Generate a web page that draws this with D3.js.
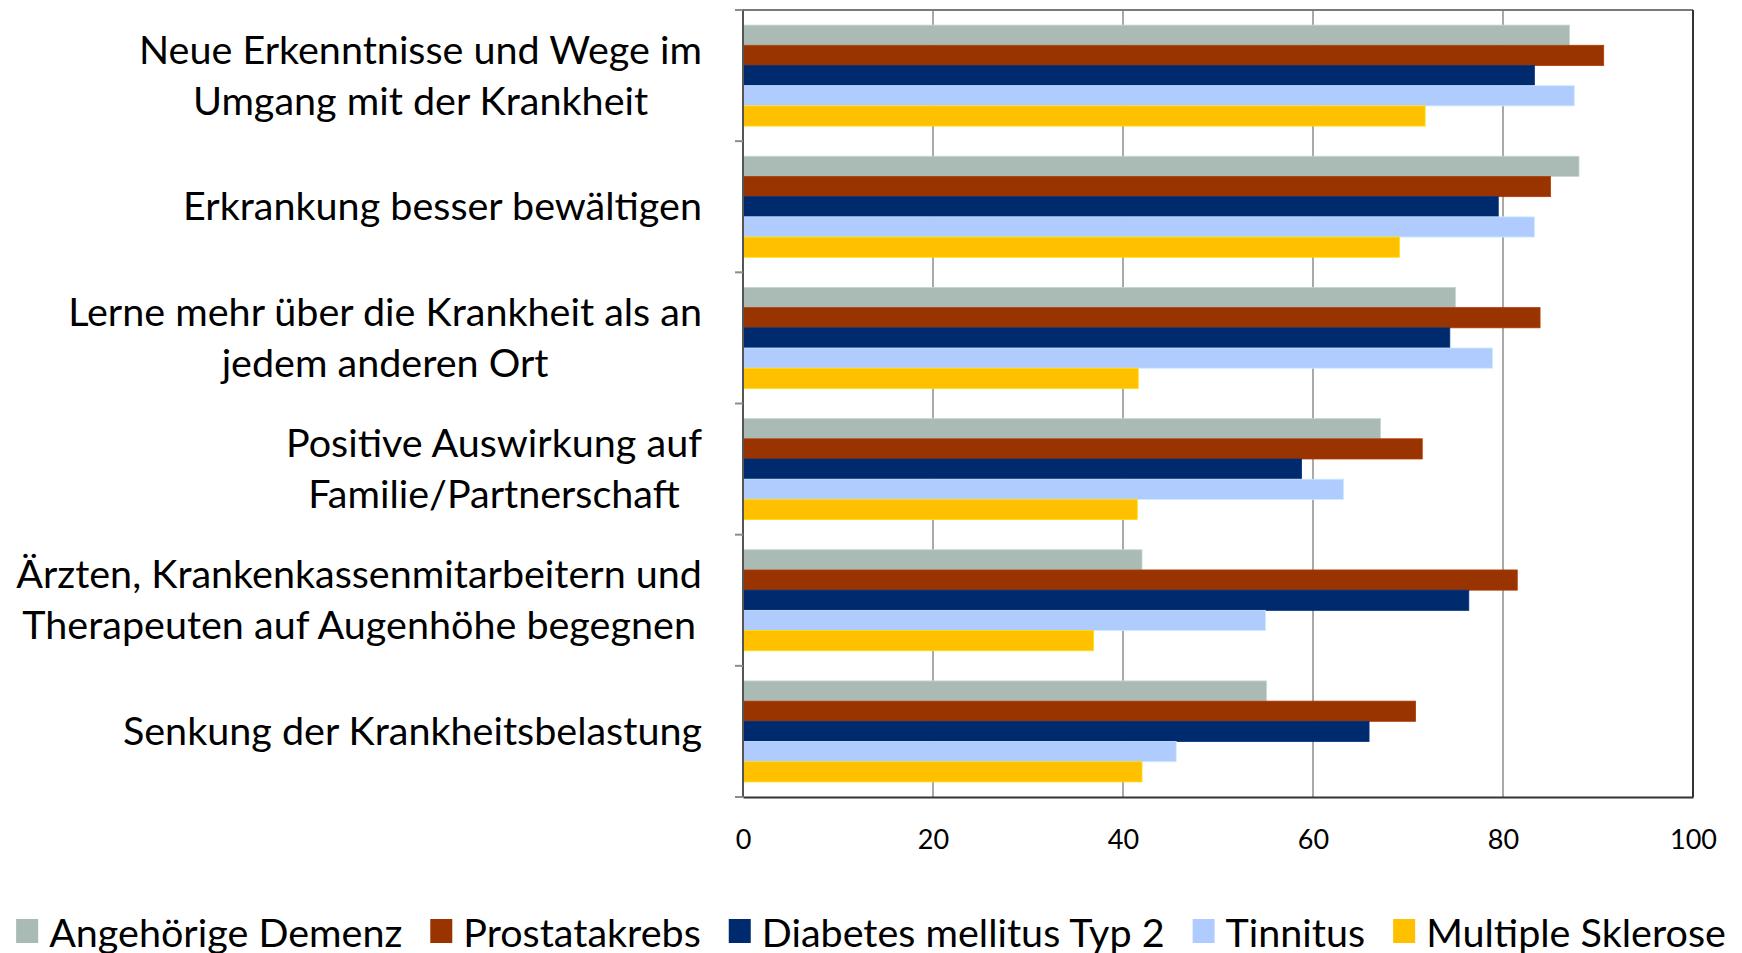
<!DOCTYPE html>
<html>
<head>
<meta charset="utf-8">
<script src="https://cdn.jsdelivr.net/npm/d3@7"></script>
<style>
  body { margin: 0; background: #fff; }
  svg { display: block; font-family: Lato, "Open Sans", sans-serif; }
</style>
</head>
<body>
<svg></svg>
<script>
const categories = [
  ["Neue Erkenntnisse und Wege im", "Umgang mit der Krankheit"],
  ["Erkrankung besser bewältigen"],
  ["Lerne mehr über die Krankheit als an", "jedem anderen Ort"],
  ["Positive Auswirkung auf", "Familie/Partnerschaft"],
  ["Ärzten, Krankenkassenmitarbeitern und", "Therapeuten auf Augenhöhe begegnen"],
  ["Senkung der Krankheitsbelastung"]
];
const seriesNames = ["Angehörige Demenz", "Prostatakrebs", "Diabetes mellitus Typ 2", "Tinnitus", "Multiple Sklerose"];
const seriesColors = ["#aabbb5", "#993300", "#002a6e", "#b0ccff", "#ffc000"];

const angehoerigeDemenz = [87.0, 88.0, 75.0, 67.1, 42.0, 55.1];
const prostatakrebs     = [90.6, 85.0, 83.9, 71.5, 81.5, 70.8];
const diabetes          = [83.3, 79.5, 74.4, 58.8, 76.4, 65.9];
const tinnitus          = [87.5, 83.3, 78.9, 63.2, 55.0, 45.6];
const multipleSklerose  = [71.8, 69.1, 41.6, 41.5, 36.9, 42.0];

const xTicks = [0, 20, 40, 60, 80, 100];

const width = 1742;
const height = 953;
const plot = { left: 743, right: 1693, top: 10, bottom: 797 };

const seriesValues = [angehoerigeDemenz, prostatakrebs, diabetes, tinnitus, multipleSklerose];

let svg = d3.select("svg").attr("width", width).attr("height", height);

const xScale = d3.scaleLinear().domain([0, 100]).range([plot.left, plot.right]);

//categories top to bottom, padding so that bars fill ~77% of each band
const yScale = d3.scaleBand()
  .domain(d3.range(categories.length))
  .range([plot.top, plot.bottom])
  .paddingInner(0.23)
  .paddingOuter(0.115);

const seriesScale = d3.scaleBand()
  .domain(d3.range(seriesNames.length))
  .range([0, yScale.bandwidth()]);

const step = yScale.step();

//gridlines
svg.append("g")
  .selectAll("line")
  .data(xTicks.slice(1, -1))
  .enter()
  .append("line")
  .attr("x1", (d) => xScale(d))
  .attr("x2", (d) => xScale(d))
  .attr("y1", plot.top)
  .attr("y2", plot.bottom)
  .attr("stroke", "#8c8c8c")
  .attr("stroke-width", 1.5);

//bars
const groups = svg.append("g")
  .selectAll("g")
  .data(categories)
  .enter()
  .append("g")
  .attr("transform", (d, i) => "translate(0," + yScale(i) + ")");

groups.selectAll("rect")
  .data((d, i) => seriesValues.map((vals, s) => ({ s: s, v: vals[i] })))
  .enter()
  .append("rect")
  .attr("x", xScale(0))
  .attr("y", (d) => seriesScale(d.s))
  .attr("width", (d) => xScale(d.v) - xScale(0))
  .attr("height", seriesScale.bandwidth())
  .attr("fill", (d) => seriesColors[d.s])
  .attr("stroke", (d) => d3.color(seriesColors[d.s]).brighter(0.4))
  .attr("stroke-width", 0.8);

//frame: top grey, right dark
svg.append("line")
  .attr("x1", plot.left).attr("x2", plot.right)
  .attr("y1", plot.top).attr("y2", plot.top)
  .attr("stroke", "#7a7a7a").attr("stroke-width", 2);
svg.append("line")
  .attr("x1", plot.right).attr("x2", plot.right)
  .attr("y1", plot.top).attr("y2", plot.bottom)
  .attr("stroke", "#333").attr("stroke-width", 2);

//x axis with labels only
const xAxis = d3.axisBottom(xScale).tickValues(xTicks).tickSize(0).tickPadding(33);
const gx = svg.append("g")
  .attr("transform", "translate(0," + plot.bottom + ")")
  .call(xAxis);
gx.select(".domain").attr("stroke", "#333").attr("stroke-width", 2);
gx.selectAll("text")
  .attr("font-size", 27)
  .attr("font-family", "Lato, sans-serif")
  .attr("fill", "#000");

//y axis: line + ticks at band boundaries
const boundaries = d3.range(categories.length + 1).map((i) => plot.top + i * step);
svg.append("line")
  .attr("x1", plot.left).attr("x2", plot.left)
  .attr("y1", plot.top).attr("y2", plot.bottom)
  .attr("stroke", "#555").attr("stroke-width", 2);
svg.append("g")
  .selectAll("line")
  .data(boundaries)
  .enter()
  .append("line")
  .attr("x1", plot.left - 8).attr("x2", plot.left)
  .attr("y1", (d) => d).attr("y2", (d) => d)
  .attr("stroke", "#8c8c8c").attr("stroke-width", 2);

//category labels: lines centered on each other, block right aligned
const labelRight = 702;
const lineGap = 51;
categories.forEach((lines, i) => {
  const cy = plot.top + i * step + step / 2 - 2;
  const g = svg.append("g");
  const texts = lines.map((line, k) =>
    g.append("text")
      .attr("font-size", 39.5)
      .attr("fill", "#000")
      .attr("text-anchor", "middle")
      .attr("dominant-baseline", "central")
      .attr("y", cy + (k - (lines.length - 1) / 2) * lineGap)
      .text(line)
  );
  const maxW = d3.max(texts, (t) => t.node().getComputedTextLength());
  texts.forEach((t) => t.attr("x", labelRight - maxW / 2));
});

//legend, centered at the bottom
const legendY = 931;
const legend = svg.append("g");
let lx = 0;
seriesNames.forEach((name, i) => {
  legend.append("rect")
    .attr("x", lx).attr("y", legendY - 12)
    .attr("width", 22).attr("height", 24)
    .attr("fill", seriesColors[i]);
  const t = legend.append("text")
    .attr("x", lx + 33).attr("y", legendY)
    .attr("dominant-baseline", "central")
    .attr("font-size", 39.5)
    .attr("fill", "#000")
    .text(name);
  lx += 33 + t.node().getComputedTextLength() + 28;
});
lx -= 28;
legend.attr("transform", "translate(" + (width / 2 - lx / 2) + ",0)");
</script>
</body>
</html>
